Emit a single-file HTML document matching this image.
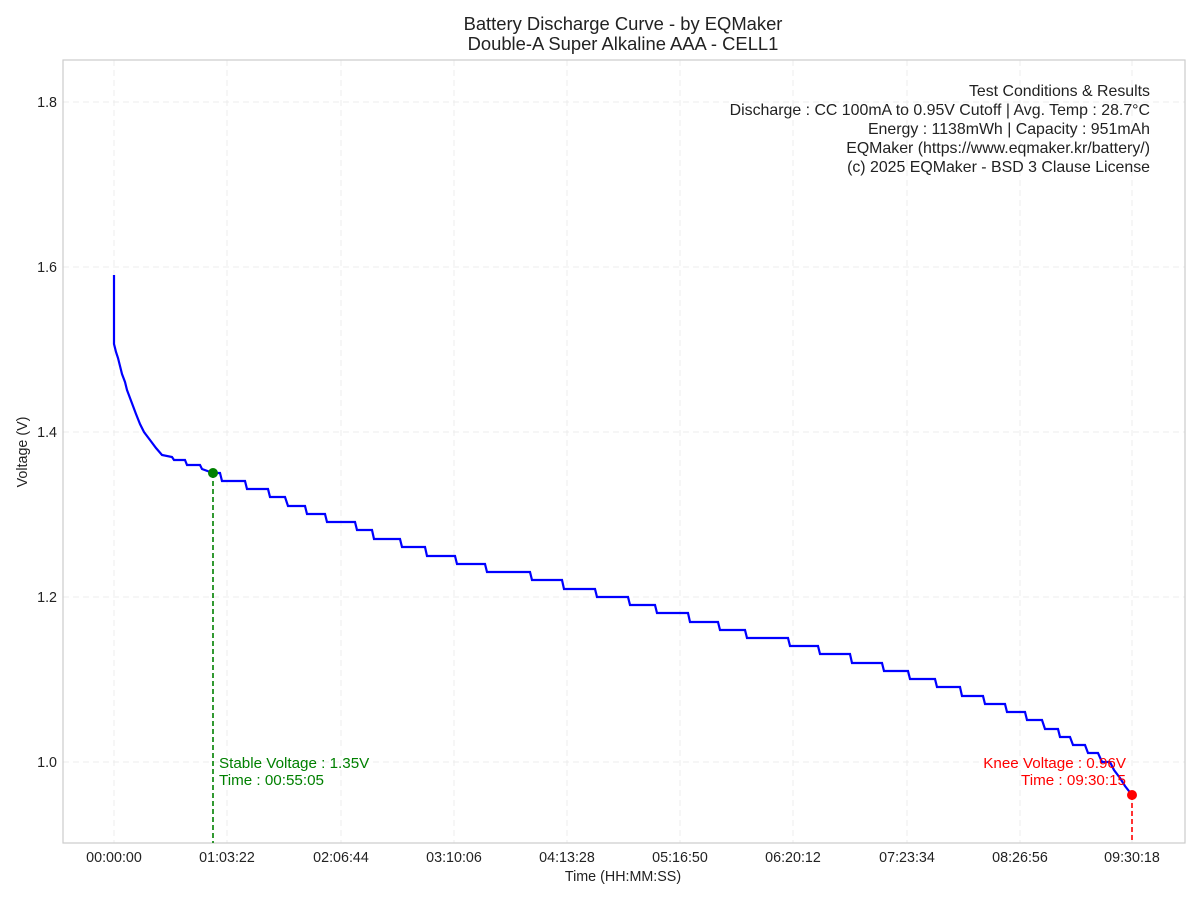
<!DOCTYPE html>
<html><head><meta charset="utf-8"><style>
body{margin:0;background:#fff;}
svg text{font-family:"Liberation Sans",sans-serif;}
</style></head><body>
<svg width="1200" height="900" xmlns="http://www.w3.org/2000/svg">
<rect width="1200" height="900" fill="#fff"/>
<text x="623" y="30" font-size="18.4" text-anchor="middle" fill="#222">Battery Discharge Curve - by EQMaker</text>
<text x="623" y="50" font-size="18.4" text-anchor="middle" fill="#222">Double-A Super Alkaline AAA - CELL1</text>
<g stroke="#ececec" stroke-dasharray="6,4" stroke-width="0.9">
<line x1="63" x2="1185" y1="102" y2="102"/><line x1="63" x2="1185" y1="267" y2="267"/>
<line x1="63" x2="1185" y1="432" y2="432"/><line x1="63" x2="1185" y1="597" y2="597"/>
<line x1="63" x2="1185" y1="762" y2="762"/>
<line x1="114" x2="114" y1="60" y2="843"/><line x1="227" x2="227" y1="60" y2="843"/>
<line x1="341" x2="341" y1="60" y2="843"/><line x1="454" x2="454" y1="60" y2="843"/>
<line x1="567" x2="567" y1="60" y2="843"/><line x1="680" x2="680" y1="60" y2="843"/>
<line x1="793" x2="793" y1="60" y2="843"/><line x1="907" x2="907" y1="60" y2="843"/>
<line x1="1020" x2="1020" y1="60" y2="843"/><line x1="1132" x2="1132" y1="60" y2="843"/>
</g>
<rect x="63" y="60" width="1122" height="783" fill="none" stroke="#ccc" stroke-width="1.2"/>
<g font-size="14.3" fill="#222" text-anchor="end">
<text x="57" y="107">1.8</text><text x="57" y="272">1.6</text><text x="57" y="437">1.4</text><text x="57" y="602">1.2</text><text x="57" y="767">1.0</text>
</g>
<g font-size="14.3" fill="#222" text-anchor="middle">
<text x="114" y="862">00:00:00</text><text x="227" y="862">01:03:22</text><text x="341" y="862">02:06:44</text><text x="454" y="862">03:10:06</text><text x="567" y="862">04:13:28</text><text x="680" y="862">05:16:50</text><text x="793" y="862">06:20:12</text><text x="907" y="862">07:23:34</text><text x="1020" y="862">08:26:56</text><text x="1132" y="862">09:30:18</text>
<text x="623" y="881">Time (HH:MM:SS)</text>
</g>
<text transform="translate(27,452) rotate(-90)" font-size="14.3" fill="#222" text-anchor="middle">Voltage (V)</text>
<g font-size="15.9" fill="#222" text-anchor="end">
<text x="1150" y="96">Test Conditions &amp; Results</text>
<text x="1150" y="115">Discharge : CC 100mA to 0.95V Cutoff | Avg. Temp : 28.7°C</text>
<text x="1150" y="134">Energy : 1138mWh | Capacity : 951mAh</text>
<text x="1150" y="153">EQMaker (https://www.eqmaker.kr/battery/)</text>
<text x="1150" y="172">(c) 2025 EQMaker - BSD 3 Clause License</text>
</g>
<polyline fill="none" stroke="#0000ff" stroke-width="2.2" points="114,275 114,344 116,352 118,358 120,366 122,374 125,382 127,390 130,398 133,406 136,414 140,424 144,432 150,440 156,448 162,455 172,457 174,460 185,460 187,465 200,465 202,469 213,473 220,473 222,481 245,481 247,489 268,489 270,497 285,497 288,506 305,506 307,514 325,514 327,522 355,522 357,530 372,530 374,539 400,539 402,547 425,547 427,556 455,556 457,564 485,564 487,572 530,572 532,580 562,580 564,589 595,589 597,597 628,597 630,605 655,605 657,613 688,613 690,622 718,622 720,630 745,630 747,638 788,638 790,646 818,646 820,654 850,654 852,663 882,663 884,671 908,671 910,679 935,679 937,687 960,687 962,696 983,696 985,704 1005,704 1007,712 1025,712 1027,720 1042,720 1045,729 1058,729 1060,737 1070,737 1073,745 1085,745 1088,753 1098,753 1102,762 1110,762 1114,770 1120,778 1125,786 1132,795"/>
<line x1="213" y1="473" x2="213" y2="843" stroke="green" stroke-width="1.6" stroke-dasharray="5,3"/>
<circle cx="213" cy="473" r="5" fill="green"/>
<line x1="1132" y1="795" x2="1132" y2="843" stroke="red" stroke-width="1.6" stroke-dasharray="5,3"/>
<circle cx="1132" cy="795" r="5" fill="red"/>
<g font-size="15.2" fill="green"><text x="219" y="768">Stable Voltage : 1.35V</text><text x="219" y="785">Time : 00:55:05</text></g>
<g font-size="15.2" fill="red" text-anchor="end"><text x="1126" y="768">Knee Voltage : 0.96V</text><text x="1126" y="785">Time : 09:30:15</text></g>
</svg>
</body></html>
